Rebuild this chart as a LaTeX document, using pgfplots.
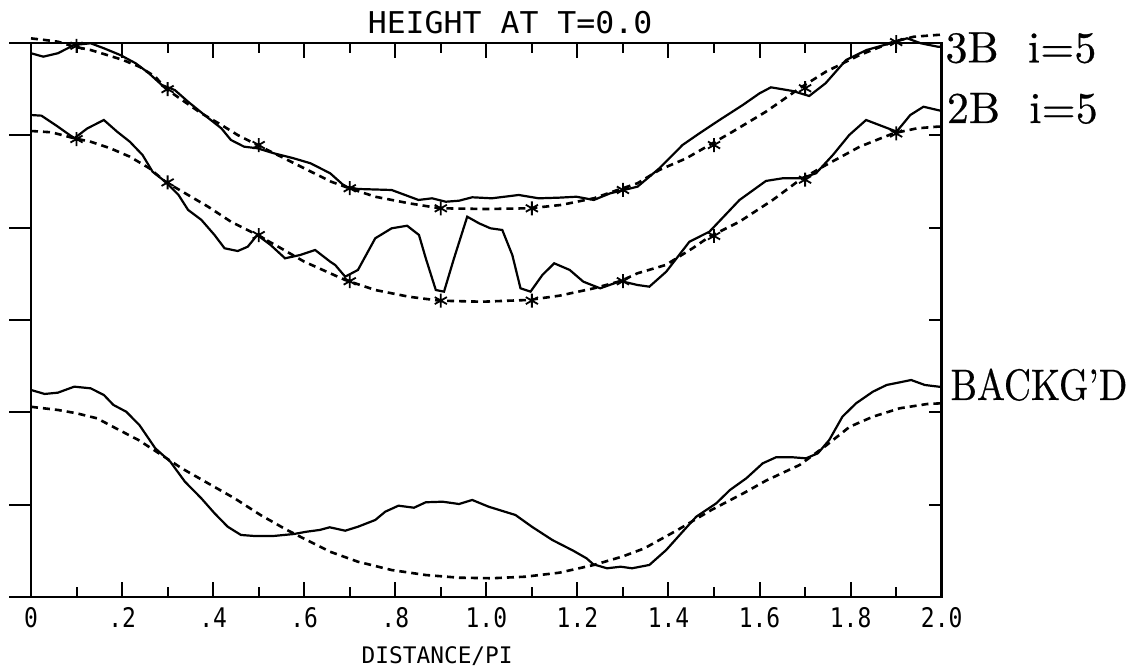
\documentclass[border=0pt]{standalone}
\usepackage{fontspec}
\usepackage{pgfplots}
\pgfplotsset{compat=1.18}
\newfontfamily\titlefont[FakeStretch=1.05]{DejaVu Sans Mono}
\newfontfamily\tickfont[FakeStretch=0.85]{DejaVu Sans Mono}
\newfontfamily\plotfont{DejaVu Sans Mono}
\newfontfamily\lblfont[FakeBold=0.5]{lmroman10-regular.otf}

% plotter output: 1 px of the scan = 0.5bp
\pgfplotsset{
  fit/.style={black, line width=1.3bp, dash pattern=on 3.5bp off 2.5bp},
  obs/.style={black, line width=1.1bp},
  pts/.style={black, only marks, mark=asterisk, mark size=3.5bp, mark options={line width=0.9bp, solid}},
}

\begin{document}
\begin{tikzpicture}
\begin{axis}[
  name=ax,
  scale only axis,
  width=455.35bp, height=277bp,
  xmin=0, xmax=2, ymin=0, ymax=6,
  clip=false,
  axis line style={line width=1.3bp},
  xtick={0,0.2,0.4,0.6,0.8,1.0,1.2,1.4,1.6,1.8,2.0},
  minor xtick={0.1,0.3,0.5,0.7,0.9,1.1,1.3,1.5,1.7,1.9},
  xticklabels={0,.2,.4,.6,.8,1.0,1.2,1.4,1.6,1.8,2.0},
  ytick=\empty,
  tick align=inside,
  major tick length=7.5bp,
  minor tick length=5bp,
  tick style={line width=1bp, black},
  xticklabel style={font=\tickfont\fontsize{13.5bp}{16bp}\selectfont, anchor=base, yshift=-15bp, inner sep=0pt},
]

% y ticks: outward on the left, inward on the right
\pgfplotsinvokeforeach{0,1,2,3,4,5,6}{
  \draw[line width=1bp] (axis cs:0,#1) -- ++(-11bp,0);
}
\pgfplotsinvokeforeach{1,2,3,4,5}{
  \draw[line width=1bp] (axis cs:2,#1) -- ++(-6.5bp,0);
}

% ---- 3B i=5
\addplot[fit] coordinates {
  (0,6.05)(0.030,6.033)(0.059,6.014)(0.095,5.96)(0.131,5.924)(0.167,5.87)
  (0.202,5.816)(0.238,5.743)(0.273,5.635)(0.295,5.51)(0.331,5.385)(0.374,5.239)
  (0.418,5.113)(0.454,5.003)(0.497,4.895)(0.549,4.769)(0.600,4.643)(0.659,4.498)
  (0.699,4.427)(0.756,4.335)(0.830,4.264)(0.898,4.21)(1.0,4.202)(1.096,4.21)
  (1.164,4.246)(1.236,4.318)(1.288,4.408)(1.332,4.481)(1.380,4.625)(1.439,4.751)
  (1.490,4.895)(1.541,5.04)(1.614,5.256)(1.688,5.51)(1.746,5.69)(1.820,5.87)
  (1.894,6.014)(1.939,6.068)(1.990,6.087)(2.0,6.09)
};
\addplot[obs] coordinates {
  (0,5.889)(0.027,5.852)(0.059,5.889)(0.095,5.979)(0.131,5.997)(0.160,5.943)
  (0.196,5.87)(0.230,5.78)(0.259,5.672)(0.287,5.546)(0.316,5.49)(0.345,5.364)
  (0.381,5.22)(0.418,5.076)(0.439,4.95)(0.468,4.877)(0.497,4.86)(0.533,4.806)
  (0.577,4.751)(0.614,4.697)(0.657,4.589)(0.690,4.444)(0.718,4.419)(0.792,4.408)
  (0.851,4.3)(0.881,4.318)(0.911,4.281)(0.940,4.292)(0.969,4.329)(1.012,4.318)
  (1.071,4.354)(1.115,4.318)(1.160,4.325)(1.198,4.335)(1.236,4.3)(1.272,4.372)
  (1.332,4.444)(1.380,4.643)(1.431,4.896)(1.468,5.022)(1.512,5.166)(1.563,5.328)
  (1.600,5.455)(1.625,5.52)(1.673,5.48)(1.709,5.426)(1.745,5.564)(1.790,5.816)
  (1.835,5.924)(1.887,5.997)(1.924,6.051)(1.954,5.997)(1.991,5.96)(2.0,5.957)
};
\addplot[pts] coordinates {
  (0.1,5.97)(0.3,5.50)(0.5,4.895)(0.7,4.427)(0.9,4.21)
  (1.1,4.21)(1.3,4.408)(1.5,4.895)(1.7,5.51)(1.9,6.01)
};

% ---- 2B i=5
\addplot[fit] coordinates {
  (0,5.047)(0.045,5.033)(0.095,4.968)(0.131,4.931)(0.174,4.86)(0.217,4.769)
  (0.260,4.643)(0.295,4.498)(0.345,4.354)(0.389,4.227)(0.439,4.065)(0.497,3.921)
  (0.549,3.777)(0.600,3.632)(0.657,3.506)(0.690,3.433)(0.756,3.325)(0.830,3.252)
  (0.898,3.209)(0.991,3.198)(1.093,3.217)(1.160,3.263)(1.236,3.343)(1.295,3.422)
  (1.332,3.506)(1.394,3.596)(1.453,3.777)(1.490,3.902)(1.556,4.065)(1.629,4.30)
  (1.688,4.516)(1.746,4.679)(1.820,4.877)(1.894,5.022)(1.946,5.076)(1.991,5.094)
  (2.0,5.095)
};
\addplot[obs] coordinates {
  (0,5.22)(0.023,5.213)(0.059,5.094)(0.095,4.968)(0.124,5.076)(0.160,5.166)
  (0.189,5.04)(0.217,4.931)(0.245,4.787)(0.267,4.606)(0.295,4.498)(0.324,4.354)
  (0.345,4.192)(0.374,4.085)(0.403,3.921)(0.425,3.777)(0.454,3.747)(0.476,3.794)
  (0.497,3.921)(0.526,3.813)(0.558,3.668)(0.591,3.704)(0.624,3.758)(0.657,3.632)
  (0.668,3.596)(0.690,3.469)(0.718,3.542)(0.756,3.885)(0.792,3.993)(0.826,4.021)
  (0.852,3.921)(0.867,3.668)(0.889,3.325)(0.907,3.307)(0.929,3.668)(0.958,4.119)
  (0.984,4.047)(1.009,3.993)(1.035,3.975)(1.057,3.704)(1.075,3.343)(1.097,3.307)
  (1.123,3.487)(1.149,3.614)(1.183,3.542)(1.213,3.415)(1.250,3.343)(1.295,3.422)
  (1.332,3.379)(1.358,3.361)(1.395,3.523)(1.446,3.848)(1.490,3.957)(1.556,4.30)
  (1.614,4.506)(1.651,4.535)(1.691,4.535)(1.724,4.589)(1.761,4.787)(1.797,5.004)
  (1.834,5.166)(1.901,5.04)(1.931,5.22)(1.960,5.31)(1.990,5.275)(2.0,5.264)
};
\addplot[pts] coordinates {
  (0.1,4.96)(0.3,4.49)(0.5,3.92)(0.7,3.42)(0.9,3.21)
  (1.1,3.21)(1.3,3.42)(1.5,3.91)(1.7,4.52)(1.9,5.02)
};

% ---- background
\addplot[fit] coordinates {
  (0,2.06)(0.06,2.025)(0.10,1.99)(0.145,1.935)(0.193,1.81)(0.236,1.70)
  (0.287,1.537)(0.331,1.394)(0.389,1.231)(0.447,1.069)(0.504,0.888)(0.562,0.726)
  (0.613,0.599)(0.657,0.49)(0.718,0.382)(0.792,0.292)(0.867,0.238)(0.940,0.209)
  (1.012,0.203)(1.086,0.22)(1.160,0.263)(1.236,0.347)(1.30,0.44)(1.347,0.527)
  (1.420,0.726)(1.494,0.942)(1.567,1.13)(1.614,1.26)(1.688,1.43)(1.746,1.64)
  (1.798,1.844)(1.849,1.953)(1.908,2.044)(1.968,2.09)(2.0,2.098)
};
\addplot[obs] coordinates {
  (0,2.242)(0.030,2.199)(0.059,2.213)(0.095,2.278)(0.131,2.26)(0.160,2.188)
  (0.181,2.08)(0.209,2.007)(0.238,1.863)(0.273,1.61)(0.306,1.465)(0.338,1.249)
  (0.374,1.069)(0.403,0.907)(0.432,0.761)(0.461,0.672)(0.490,0.661)(0.533,0.661)
  (0.577,0.682)(0.605,0.707)(0.634,0.726)(0.656,0.755)(0.690,0.718)(0.718,0.761)
  (0.756,0.834)(0.778,0.924)(0.807,0.989)(0.841,0.967)(0.867,1.026)(0.904,1.032)
  (0.940,1.007)(0.969,1.051)(1.005,0.978)(1.064,0.888)(1.100,0.761)(1.145,0.617)
  (1.191,0.501)(1.220,0.419)(1.235,0.354)(1.265,0.311)(1.295,0.328)(1.320,0.311)
  (1.358,0.347)(1.395,0.509)(1.431,0.707)(1.461,0.87)(1.505,1.015)(1.535,1.159)
  (1.571,1.286)(1.607,1.448)(1.636,1.513)(1.673,1.513)(1.702,1.502)(1.728,1.556)
  (1.753,1.70)(1.782,1.953)(1.812,2.098)(1.849,2.224)(1.879,2.296)(1.933,2.35)
  (1.963,2.296)(1.993,2.278)(2.0,2.275)
};

% titles and curve names
\node[font=\titlefont\fontsize{15bp}{18bp}\selectfont, anchor=base, inner sep=0pt, yshift=4.85bp]
  at (rel axis cs:0.526,1) {HEIGHT AT T=0.0};
\node[font=\plotfont\fontsize{11.4bp}{14bp}\selectfont, anchor=base, inner sep=0pt, yshift=-33bp]
  at (rel axis cs:0.446,0) {DISTANCE/PI};
\node[font=\lblfont\fontsize{22bp}{26bp}\selectfont, anchor=base west, inner sep=0pt, xshift=1.7bp]
  at (axis cs:2,5.79) {3B~~i=5};
\node[font=\lblfont\fontsize{22bp}{26bp}\selectfont, anchor=base west, inner sep=0pt, xshift=2.4bp]
  at (axis cs:2,5.134) {2B~~i=5};
\node[font=\lblfont\fontsize{22bp}{26bp}\selectfont, anchor=base west, inner sep=0pt, xshift=4.2bp]
  at (axis cs:2,2.134) {\scalebox{0.85}[1]{BACKG’D}};
\end{axis}
\pgfresetboundingbox
\path[use as bounding box] ([shift={(-15.5bp,-35.5bp)}]ax.south west)
  rectangle ([shift={(96.65bp,21.5bp)}]ax.north east);
\end{tikzpicture}
\end{document}
